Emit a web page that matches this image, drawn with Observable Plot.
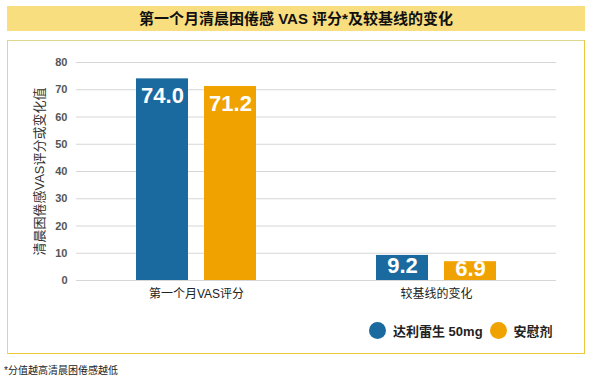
<!DOCTYPE html>
<html>
<head>
<meta charset="utf-8">
<script src="https://cdn.jsdelivr.net/npm/d3@7"></script>
<script src="https://cdn.jsdelivr.net/npm/@observablehq/plot@0.6"></script>
<style>
  body { margin: 0; width: 593px; height: 381px; position: relative; background: #fff;
         font-family: "Liberation Sans", Arial, "Noto Sans CJK SC", sans-serif; overflow: hidden; }
  #title { position: absolute; left: 7px; top: 6px; width: 578px; height: 25px; background: #F9DE7F;
           font-weight: bold; font-size: 15px; color: #111; text-align: center; line-height: 25px; }
  #panel { position: absolute; left: 7px; top: 40px; width: 576px; height: 312px;
           border: 1.5px solid #EBC83A; border-top-color: #DCD98E; border-left-color: #DCD98E; }
  #chart { position: absolute; left: 0; top: 38px; }
  #legend { position: absolute; left: 369px; top: 322px; display: flex; align-items: center; height: 17px;
            font-weight: bold; font-size: 13px; color: #222; }
  #legend .dot { width: 17px; height: 17px; border-radius: 50%; margin-right: 7px; }
  #legend .item { display: flex; align-items: center; margin-right: 7px; }
  #note { position: absolute; left: 4px; top: 362px; font-size: 10px; color: #222; }
</style>
</head>
<body>
<div id="title">第一个月清晨困倦感 VAS 评分*及较基线的变化</div>
<div id="panel"></div>
<div id="chart"></div>
<div id="legend"></div>
<div id="note">*分值越高清晨困倦感越低</div>
<script>
const groups = ["第一个月VAS评分", "较基线的变化"];
const series = ["达利雷生 50mg", "安慰剂"];
const drugValues = [74.0, 9.2];
const placeboValues = [71.2, 6.9];
const yTicks = [0, 10, 20, 30, 40, 50, 60, 70, 80];
const colors = ["#1A6A9F", "#F0A300"];

const rows = [];
groups.forEach((g, i) => {
  rows.push({group: g, series: series[0], value: drugValues[i]});
  rows.push({group: g, series: series[1], value: placeboValues[i]});
});
const big = rows.filter(d => d.value > 20);
const small = rows.filter(d => d.value <= 20);

const chart = Plot.plot({
  width: 593,
  height: 272,
  marginLeft: 75,
  marginRight: 37,
  marginTop: 24,
  marginBottom: 30,
  style: {background: "transparent", fontFamily: "'Liberation Sans', Arial, 'Noto Sans CJK SC', sans-serif"},
  fx: {domain: groups, paddingInner: 0, paddingOuter: 0, label: null},
  x: {domain: series, paddingInner: 0.23, paddingOuter: 0.855, axis: null},
  y: {domain: [0, 80], label: null},
  color: {domain: series, range: colors},
  marks: [
    Plot.gridY(yTicks, {stroke: "#d6d6d6", strokeOpacity: 1, strokeWidth: 1}),
    Plot.axisY(yTicks, {tickSize: 0, tickPadding: 9, fontWeight: "bold", fill: "#555", fontSize: 11,
      label: "清晨困倦感VAS评分或变化值", labelAnchor: "center", labelArrow: "none", labelOffset: 42}),
    Plot.axisFx({anchor: "bottom", tickSize: 0, tickPadding: 9, fontSize: 12, fill: "#222", label: null}),
    Plot.barY(rows, {fx: "group", x: "series", y: "value", fill: "series"}),
    Plot.text(big, {fx: "group", x: "series", y: "value", text: d => d.value.toFixed(1), dy: 17.5,
      fill: "white", fontWeight: "bold", fontSize: 22}),
    Plot.text(small, {fx: "group", x: "series", y: d => d.value / 2, text: d => d.value.toFixed(1), dy: -2,
      fill: "white", fontWeight: "bold", fontSize: 22})
  ]
});
document.getElementById("chart").appendChild(chart);
chart.querySelectorAll("g[aria-label='y-axis label'] text").forEach(t => { t.setAttribute("fill", "#333"); t.setAttribute("font-size", "13"); t.setAttribute("font-weight", "normal"); });

const legend = document.getElementById("legend");
series.forEach((s, i) => {
  const item = document.createElement("div");
  item.className = "item";
  const dot = document.createElement("div");
  dot.className = "dot";
  dot.style.background = colors[i];
  const label = document.createElement("span");
  label.textContent = s;
  item.appendChild(dot);
  item.appendChild(label);
  legend.appendChild(item);
});
</script>
</body>
</html>
